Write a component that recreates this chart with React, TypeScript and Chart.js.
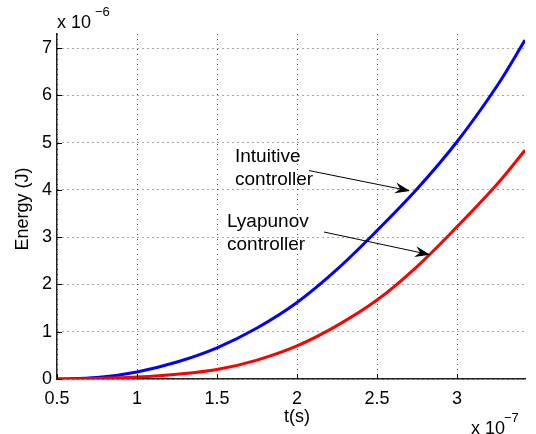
import React, { useEffect, useRef } from "react";
import { Chart, registerables } from "chart.js";

Chart.register(...registerables);

// ---- data (t in units of 1e-7 s, energy in units of 1e-6 J) ----
const tValues = [0.5, 0.75, 1, 1.25, 1.5, 1.75, 2, 2.25, 2.5, 2.75, 3, 3.25, 3.425];
const intuitiveEnergy = [0, 0.03, 0.15, 0.36, 0.66, 1.08, 1.62, 2.32, 3.14, 4.02, 5.02, 6.2, 7.17];
const lyapunovEnergy = [0, 0.01, 0.04, 0.1, 0.2, 0.4, 0.7, 1.13, 1.67, 2.38, 3.22, 4.12, 4.84];
const xTicks = [0.5, 1, 1.5, 2, 2.5, 3];
const yTicks = [0, 1, 2, 3, 4, 5, 6, 7];
const xRange = [0.5, 3.425];
const yRange = [0, 7.3];

// annotations: [label lines], text anchor (data), arrow start (data), arrow end (data)
const annotations = [
  { lines: ["Intuitive", "controller"], at: [1.6125, 4.7], from: [2.075, 4.41], to: [2.706, 3.98] },
  { lines: ["Lyapunov", "controller"], at: [1.5625, 3.33], from: [2.169, 3.11], to: [2.831, 2.63] },
];

const FONT = "'Liberation Sans', Arial, Helvetica, sans-serif";

const decor = {
  id: "decor",
  afterDraw(chart: any) {
    const ctx = chart.ctx as CanvasRenderingContext2D;
    const xs = chart.scales.x;
    const ys = chart.scales.y;
    const { left, bottom } = chart.chartArea;
    ctx.save();
    // inward ticks
    ctx.strokeStyle = "#000";
    ctx.lineWidth = 1;
    ctx.beginPath();
    xTicks.forEach((v) => {
      const p = Math.round(xs.getPixelForValue(v)) + 0.5;
      ctx.moveTo(p, bottom);
      ctx.lineTo(p, bottom - 5);
    });
    yTicks.forEach((v) => {
      const p = Math.round(ys.getPixelForValue(v)) + 0.5;
      ctx.moveTo(left, p);
      ctx.lineTo(left + 5, p);
    });
    ctx.stroke();

    ctx.fillStyle = "#000";
    // exponent labels
    ctx.textBaseline = "alphabetic";
    ctx.textAlign = "left";
    ctx.font = `18px ${FONT}`;
    ctx.fillText("x 10", 57, 28);
    ctx.font = `13px ${FONT}`;
    ctx.fillText("\u22126", 95, 16);
    ctx.font = `18px ${FONT}`;
    ctx.fillText("x 10", 471, 434);
    ctx.font = `13px ${FONT}`;
    ctx.fillText("\u22127", 504, 422);

    // axis titles
    ctx.font = `18px ${FONT}`;
    ctx.textAlign = "center";
    ctx.textBaseline = "middle";
    ctx.fillText("t(s)", 297, 417);
    ctx.save();
    ctx.translate(23, 209);
    ctx.rotate(-Math.PI / 2);
    ctx.fillText("Energy (J)", 0, 0);
    ctx.restore();

    // annotations
    ctx.font = `19px ${FONT}`;
    ctx.textAlign = "left";
    annotations.forEach((a) => {
      const tx = xs.getPixelForValue(a.at[0]);
      const ty = ys.getPixelForValue(a.at[1]);
      a.lines.forEach((ln, i) => ctx.fillText(ln, tx, ty + i * 23));
      const x1 = xs.getPixelForValue(a.from[0]);
      const y1 = ys.getPixelForValue(a.from[1]);
      const x2 = xs.getPixelForValue(a.to[0]);
      const y2 = ys.getPixelForValue(a.to[1]);
      const ang = Math.atan2(y2 - y1, x2 - x1);
      const L = 15, W = 5.5, notch = 10;
      ctx.beginPath();
      ctx.moveTo(x1, y1);
      ctx.lineTo(x2 - notch * Math.cos(ang), y2 - notch * Math.sin(ang));
      ctx.lineWidth = 1;
      ctx.stroke();
      const bx = x2 - L * Math.cos(ang);
      const by = y2 - L * Math.sin(ang);
      ctx.beginPath();
      ctx.moveTo(x2, y2);
      ctx.lineTo(bx + W * Math.sin(ang), by - W * Math.cos(ang));
      ctx.lineTo(x2 - notch * Math.cos(ang), y2 - notch * Math.sin(ang));
      ctx.lineTo(bx - W * Math.sin(ang), by + W * Math.cos(ang));
      ctx.closePath();
      ctx.fill();
    });
    ctx.restore();
  },
};

export default function App() {
  const ref = useRef<HTMLCanvasElement>(null);
  useEffect(() => {
    if (!ref.current) return;
    const chart = new Chart(ref.current, {
      type: "line",
      data: {
        datasets: [
          {
            label: "Lyapunov controller",
            data: tValues.map((t, i) => ({ x: t, y: lyapunovEnergy[i] })),
            borderColor: "#ff0000",
            borderWidth: 3,
            pointRadius: 0,
            tension: 0.35,
            fill: false,
          },
          {
            label: "Intuitive controller",
            data: tValues.map((t, i) => ({ x: t, y: intuitiveEnergy[i] })),
            borderColor: "#0000ff",
            borderWidth: 3,
            pointRadius: 0,
            tension: 0.35,
            fill: false,
          },
        ],
      },
      options: {
        animation: false,
        responsive: false,
        devicePixelRatio: 1,
        layout: { padding: { top: 34, right: 11, left: 0, bottom: 0 } },
        plugins: { legend: { display: false }, tooltip: { enabled: false } },
        scales: {
          x: {
            type: "linear",
            min: xRange[0],
            max: xRange[1],
            afterBuildTicks: (s: any) => {
              s.ticks = xTicks.map((v) => ({ value: v }));
            },
            afterFit: (s: any) => {
              s.height = 55;
            },
            ticks: {
              autoSkip: false,
              maxRotation: 0,
              padding: 9,
              color: "#000",
              font: { family: FONT, size: 18 },
              callback: (v: any) => String(v),
            },
            grid: {
              color: "rgba(0,0,0,0.7)",
              lineWidth: 1,
              drawTicks: false,
            },
            border: { display: true, color: "#222", width: 1.5, dash: [1, 4] } as any,
          },
          y: {
            type: "linear",
            min: yRange[0],
            max: yRange[1],
            afterBuildTicks: (s: any) => {
              s.ticks = yTicks.map((v) => ({ value: v }));
            },
            afterFit: (s: any) => {
              s.width = 57;
            },
            ticks: {
              autoSkip: false,
              padding: 5,
              color: "#000",
              font: { family: FONT, size: 18 },
              callback: (v: any) => String(v),
            },
            grid: {
              color: "rgba(0,0,0,0.7)",
              lineWidth: 1,
              drawTicks: false,
            },
            border: { display: true, color: "#222", width: 1.5, dash: [1, 4] } as any,
          },
        },
      } as any,
      plugins: [decor],
    });
    return () => chart.destroy();
  }, []);
  return (
    <div style={{ position: "fixed", left: 0, top: 0, width: 536, height: 434, background: "#fff" }}>
      <canvas ref={ref} width={536} height={434} />
    </div>
  );
}
